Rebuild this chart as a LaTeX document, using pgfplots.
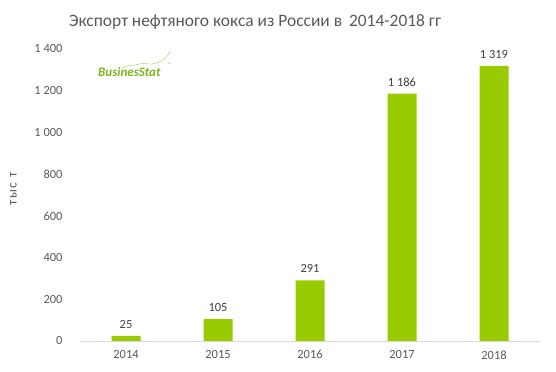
\documentclass[border=0pt]{standalone}
\usepackage{pgfplots}
\pgfplotsset{compat=1.18}
\usepackage{fontspec}
\setmainfont{Carlito}
\definecolor{bargreen}{HTML}{99CC00}
\definecolor{txtgray}{HTML}{595959}
\definecolor{lblgray}{HTML}{404040}
\definecolor{logogreen}{HTML}{7AB51D}
\begin{document}
\begin{tikzpicture}
\path[use as bounding box] (0,0) rectangle (556bp,372bp);
\node[text=txtgray,font=\fontsize{17.5}{20}\selectfont] at (255bp,350bp) {Экспорт нефтяного кокса из России в\, 2014-2018 гг};
\begin{axis}[
  at={(80bp,31bp)}, anchor=south west,
  scale only axis, width=460bp, height=292bp,
  xmin=-0.5, xmax=4.5, ymin=0, ymax=1400,
  xtick={0,1,2,3,4}, xticklabels={2014,2015,2016,2017,2018},
  ytick={0,200,...,1400},
  axis lines*=left,
  axis line style={-},
  x axis line style={draw=black!15, line width=0.8pt},
  y axis line style={draw=none},
  major tick length=0pt,
  tick label style={font=\fontsize{12.5}{14}\selectfont, text=txtgray},
  /pgf/number format/assume math mode=true,
  /pgf/number format/1000 sep={\ },
  yticklabel style={xshift=-14bp},
  xticklabel style={yshift=-6bp},
  ylabel={\fontsize{13.5}{15}\selectfont\addfontfeatures{LetterSpace=12}тыс т},
  ylabel style={at={(axis description cs:-0.13,0.52)}, text=txtgray},
  nodes near coords,
  every node near coord/.append style={font=\fontsize{12.5}{14}\selectfont, text=lblgray, yshift=4bp},
]
\addplot[ybar, bar width=29bp, fill=bargreen, draw=none] coordinates {(0,25) (1,105) (2,291) (3,1186) (4,1319)};
\end{axis}
\draw[logogreen!60, line width=0.5pt] (122bp,304bp) .. controls (130bp,308bp) and (134bp,306bp) .. (139bp,308bp) .. controls (146bp,310bp) and (150bp,306bp) .. (156bp,309bp) .. controls (163bp,311bp) and (167bp,314bp) .. (170bp,321bp);
\node[text=logogreen,font=\fontsize{13}{14}\selectfont\bfseries\itshape, inner sep=0pt, anchor=west] at (98bp,300bp) {BusinesStat};
\node[text=logogreen,font=\fontsize{5}{6}\selectfont, inner sep=0pt] at (170bp,307bp) {®};
\end{tikzpicture}
\end{document}
